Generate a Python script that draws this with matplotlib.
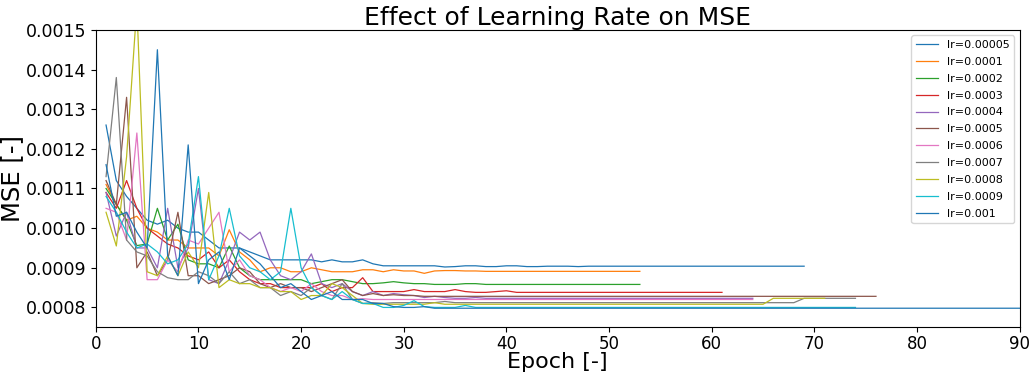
import numpy as np
import matplotlib
matplotlib.use('Agg')
from matplotlib import pyplot as plt

# learning rates (legend labels)
lr_labels = ['lr=0.00005', 'lr=0.0001', 'lr=0.0002', 'lr=0.0003', 'lr=0.0004',
             'lr=0.0005', 'lr=0.0006', 'lr=0.0007', 'lr=0.0008', 'lr=0.0009',
             'lr=0.001']

# MSE per epoch (epoch starts at 1)
mse_00005 = [0.00126, 0.00112, 0.00108, 0.00105, 0.00102, 0.00101, 0.00102, 0.00100, 0.00099, 0.00099,
             0.00097, 0.00095, 0.00095, 0.00095, 0.00094, 0.00093, 0.00092, 0.00092, 0.00092, 0.00092,
             0.00092, 0.000915, 0.00092, 0.000915, 0.000915, 0.00092, 0.00091, 0.000905, 0.000905, 0.000905,
             0.000905, 0.000905, 0.000905, 0.000902, 0.000903, 0.000905, 0.000905, 0.000903, 0.000903, 0.000905,
             0.000905, 0.000903, 0.000903, 0.000904, 0.000904, 0.000904, 0.000903, 0.000904, 0.000904, 0.000904,
             0.000904, 0.000904, 0.000904, 0.000904, 0.000904, 0.000904, 0.000904, 0.000904, 0.000904, 0.000904,
             0.000904, 0.000904, 0.000904, 0.000904, 0.000904, 0.000904, 0.000904, 0.000904, 0.000904]
mse_0001 = [0.00111, 0.00106, 0.00102, 0.00103, 0.00100, 0.00099, 0.00097, 0.00097, 0.00095, 0.00095,
            0.00095, 0.00093, 0.000996, 0.00094, 0.00092, 0.00089, 0.00090, 0.00090, 0.00089, 0.00089,
            0.00090, 0.000895, 0.00089, 0.00089, 0.00089, 0.000895, 0.000895, 0.00089, 0.000895, 0.000892,
            0.000892, 0.000886, 0.000892, 0.000893, 0.000893, 0.000892, 0.000892, 0.000891, 0.000891, 0.000891,
            0.000891, 0.000891, 0.000891, 0.000891, 0.000891, 0.000891, 0.000891, 0.000891, 0.000891, 0.000891,
            0.000891, 0.000891, 0.000891]
mse_0002 = [0.00110, 0.00106, 0.00102, 0.000956, 0.00096, 0.00105, 0.00097, 0.00101, 0.00092, 0.00091,
            0.00091, 0.00090, 0.000955, 0.00090, 0.00088, 0.00087, 0.00087, 0.00087, 0.00087, 0.00087,
            0.00086, 0.000865, 0.00087, 0.00087, 0.000865, 0.00086, 0.00086, 0.000862, 0.000865, 0.000862,
            0.00086, 0.00086, 0.000858, 0.000858, 0.000858, 0.00086, 0.00086, 0.000858, 0.000858, 0.000858,
            0.000858, 0.000858, 0.000858, 0.000858, 0.000858, 0.000858, 0.000858, 0.000858, 0.000858, 0.000858,
            0.000858, 0.000858, 0.000858]
mse_0003 = [0.00109, 0.00105, 0.00112, 0.00105, 0.00100, 0.00098, 0.00096, 0.00095, 0.00093, 0.00092,
            0.00094, 0.00090, 0.00092, 0.00089, 0.00087, 0.00086, 0.00086, 0.00085, 0.00085, 0.00085,
            0.00085, 0.00086, 0.00084, 0.00085, 0.00085, 0.000875, 0.00084, 0.00084, 0.00084, 0.00084,
            0.000845, 0.00084, 0.00084, 0.00084, 0.000845, 0.00084, 0.000838, 0.000838, 0.00084, 0.000842,
            0.000838, 0.000838, 0.000838, 0.000838, 0.000838, 0.000838, 0.000838, 0.000838, 0.000838, 0.000838,
            0.000838, 0.000838, 0.000838, 0.000838, 0.000838, 0.000838, 0.000838, 0.000838, 0.000838, 0.000838,
            0.000838]
mse_0004 = [0.00109, 0.00098, 0.00104, 0.00095, 0.00095, 0.00090, 0.00105, 0.00090, 0.00095, 0.00110,
            0.00087, 0.00086, 0.00092, 0.00099, 0.00097, 0.00099, 0.00092, 0.00088, 0.00087, 0.00089,
            0.000935, 0.00086, 0.00085, 0.00086, 0.00084, 0.00083, 0.00084, 0.00083, 0.000835, 0.000832,
            0.00083, 0.000825, 0.000828, 0.000825, 0.000823, 0.000823, 0.000825, 0.000823, 0.000823, 0.000823,
            0.000823, 0.000823, 0.000823, 0.000823, 0.000823, 0.000823, 0.000823, 0.000823, 0.000823, 0.000823,
            0.000823, 0.000823, 0.000823, 0.000823, 0.000823, 0.000823, 0.000823, 0.000823, 0.000823, 0.000823,
            0.000823, 0.000823, 0.000823, 0.000823]
mse_0005 = [0.00112, 0.00106, 0.00133, 0.00090, 0.00094, 0.00088, 0.00092, 0.00104, 0.00088, 0.00088,
            0.00086, 0.00087, 0.00088, 0.00090, 0.00089, 0.00086, 0.00085, 0.00086, 0.00085, 0.00085,
            0.00084, 0.00085, 0.00086, 0.00087, 0.00084, 0.00083, 0.000835, 0.00083, 0.000832, 0.00083,
            0.00083, 0.000828, 0.000828, 0.000828, 0.000828, 0.000828, 0.000828, 0.000828, 0.000828, 0.000828,
            0.000828, 0.000828, 0.000828, 0.000828, 0.000828, 0.000828, 0.000828, 0.000828, 0.000828, 0.000828,
            0.000828, 0.000828, 0.000828, 0.000828, 0.000828, 0.000828, 0.000828, 0.000828, 0.000828, 0.000828,
            0.000828, 0.000828, 0.000828, 0.000828, 0.000828, 0.000828, 0.000828, 0.000828, 0.000828, 0.000828,
            0.000828, 0.000828, 0.000828, 0.000828, 0.000828, 0.000828]
mse_0006 = [0.00105, 0.00104, 0.00097, 0.00124, 0.00087, 0.00087, 0.00092, 0.00089, 0.00097, 0.00096,
            0.00100, 0.00104, 0.00089, 0.00092, 0.00088, 0.00087, 0.00085, 0.00084, 0.00085, 0.00084,
            0.00086, 0.00084, 0.00083, 0.00083, 0.00082, 0.000822, 0.00082, 0.00082, 0.00082, 0.00082,
            0.00082, 0.00082, 0.00082, 0.00082, 0.00082, 0.00082, 0.00082, 0.00082, 0.00082, 0.00082,
            0.00082, 0.00082, 0.00082, 0.00082, 0.00082, 0.00082, 0.00082, 0.00082, 0.00082, 0.00082,
            0.00082, 0.00082, 0.00082, 0.00082, 0.00082, 0.00082, 0.00082, 0.00082, 0.00082, 0.00082,
            0.00082, 0.00082, 0.00082, 0.00082]
mse_0007 = [0.00113, 0.00138, 0.00097, 0.00094, 0.00093, 0.00089, 0.000875, 0.00087, 0.00087, 0.00089,
            0.00088, 0.00086, 0.00089, 0.00086, 0.00087, 0.00085, 0.00085, 0.00083, 0.00084, 0.00083,
            0.00085, 0.00083, 0.00082, 0.00086, 0.00082, 0.00081, 0.000812, 0.00081, 0.000812, 0.000812,
            0.000812, 0.000812, 0.000812, 0.000815, 0.000812, 0.000812, 0.000812, 0.000812, 0.000812, 0.000812,
            0.000812, 0.000812, 0.000812, 0.000812, 0.000812, 0.000812, 0.000812, 0.000812, 0.000812, 0.000812,
            0.000812, 0.000812, 0.000812, 0.000812, 0.000812, 0.000812, 0.000812, 0.000812, 0.000812, 0.000812,
            0.000812, 0.000812, 0.000812, 0.000812, 0.000812, 0.000812, 0.000812, 0.000812, 0.000823, 0.000823,
            0.000823, 0.000823, 0.000823, 0.000823]
mse_0008 = [0.00104, 0.000955, 0.00118, 0.00156, 0.00089, 0.00088, 0.00093, 0.00088, 0.00094, 0.00090,
            0.00109, 0.00085, 0.00087, 0.00086, 0.00086, 0.00085, 0.00085, 0.00084, 0.00084, 0.00082,
            0.00083, 0.00083, 0.00086, 0.00085, 0.00083, 0.00081, 0.000808, 0.000808, 0.000808, 0.000808,
            0.000808, 0.000808, 0.000812, 0.000808, 0.000808, 0.000808, 0.000808, 0.000808, 0.000808, 0.000808,
            0.000808, 0.000808, 0.000808, 0.000808, 0.000808, 0.000808, 0.000808, 0.000808, 0.000808, 0.000808,
            0.000808, 0.000808, 0.000808, 0.000808, 0.000808, 0.000808, 0.000808, 0.000808, 0.000808, 0.000808,
            0.000808, 0.000808, 0.000808, 0.000808, 0.000808, 0.000823, 0.000823, 0.000823, 0.000823, 0.000823,
            0.000823]
mse_0009 = [0.00108, 0.00104, 0.00099, 0.00095, 0.00096, 0.00094, 0.00091, 0.00092, 0.00096, 0.00113,
            0.00087, 0.00093, 0.00105, 0.00093, 0.00090, 0.00089, 0.00087, 0.00089, 0.00105, 0.00090,
            0.00085, 0.00083, 0.00082, 0.00084, 0.00082, 0.00081, 0.00081, 0.00080, 0.00080, 0.000805,
            0.000817, 0.000802, 0.0008, 0.0008, 0.0008, 0.000805, 0.0008, 0.0008, 0.0008, 0.0008,
            0.0008, 0.0008, 0.0008, 0.0008, 0.0008, 0.0008, 0.0008, 0.0008, 0.0008, 0.0008,
            0.0008, 0.0008, 0.0008, 0.0008, 0.0008, 0.0008, 0.0008, 0.0008, 0.0008, 0.0008,
            0.0008, 0.0008, 0.0008, 0.0008, 0.0008, 0.0008, 0.0008, 0.0008, 0.0008, 0.0008,
            0.0008, 0.0008, 0.0008, 0.0008]
mse_001 = [0.00116, 0.00103, 0.00104, 0.00099, 0.00095, 0.00145, 0.00093, 0.00088, 0.00121, 0.00086,
           0.00092, 0.00094, 0.00087, 0.00095, 0.00093, 0.00091, 0.00088, 0.00085, 0.00086, 0.00084,
           0.00082, 0.00083, 0.00084, 0.00082, 0.00082, 0.00082, 0.00081, 0.00081, 0.000802, 0.0008,
           0.0008, 0.000802, 0.000798, 0.000798, 0.000798, 0.000798, 0.000798, 0.000798, 0.000798, 0.000798,
           0.000798, 0.000798, 0.000798, 0.000798, 0.000798, 0.000798, 0.000798, 0.000798, 0.000798, 0.000798,
           0.000798, 0.000798, 0.000798, 0.000798, 0.000798, 0.000798, 0.000798, 0.000798, 0.000798, 0.000798,
           0.000798, 0.000798, 0.000798, 0.000798, 0.000798, 0.000798, 0.000798, 0.000798, 0.000798, 0.000798,
           0.000798, 0.000798, 0.000798, 0.000798, 0.000798, 0.000798, 0.000798, 0.000798, 0.000798, 0.000798,
           0.000798, 0.000798, 0.000798, 0.000798, 0.000798, 0.000798, 0.000798, 0.000798, 0.000798, 0.000798]

all_mse = [mse_00005, mse_0001, mse_0002, mse_0003, mse_0004, mse_0005,
           mse_0006, mse_0007, mse_0008, mse_0009, mse_001]

fig = plt.figure(figsize=(10.3, 3.74), dpi=100)
ax = fig.add_axes([0.093, 0.125, 0.897, 0.795])

for i, (label, mse) in enumerate(zip(lr_labels, all_mse)):
    epochs = np.arange(1, len(mse) + 1)
    ax.plot(epochs, mse, color='C%d' % (i % 10), lw=0.9, label=label)

ax.set_xlim(0, 90)
ax.set_ylim(0.00075, 0.0015)
ax.set_yticks(np.arange(0.0008, 0.00151, 0.0001))
ax.yaxis.set_major_formatter(matplotlib.ticker.FormatStrFormatter('%.4f'))
ax.tick_params(labelsize=12.5)
ax.tick_params(axis='x', labelsize=12, pad=2)
ax.set_xlabel('Epoch [-]', fontsize=16, labelpad=-1)
ax.set_ylabel('MSE [-]', fontsize=17.5, labelpad=1)
ax.set_title('Effect of Learning Rate on MSE', fontsize=18, pad=2)
ax.legend(loc='upper right', fontsize=8, labelspacing=0.62)

fig.savefig('out.png', dpi=100)
